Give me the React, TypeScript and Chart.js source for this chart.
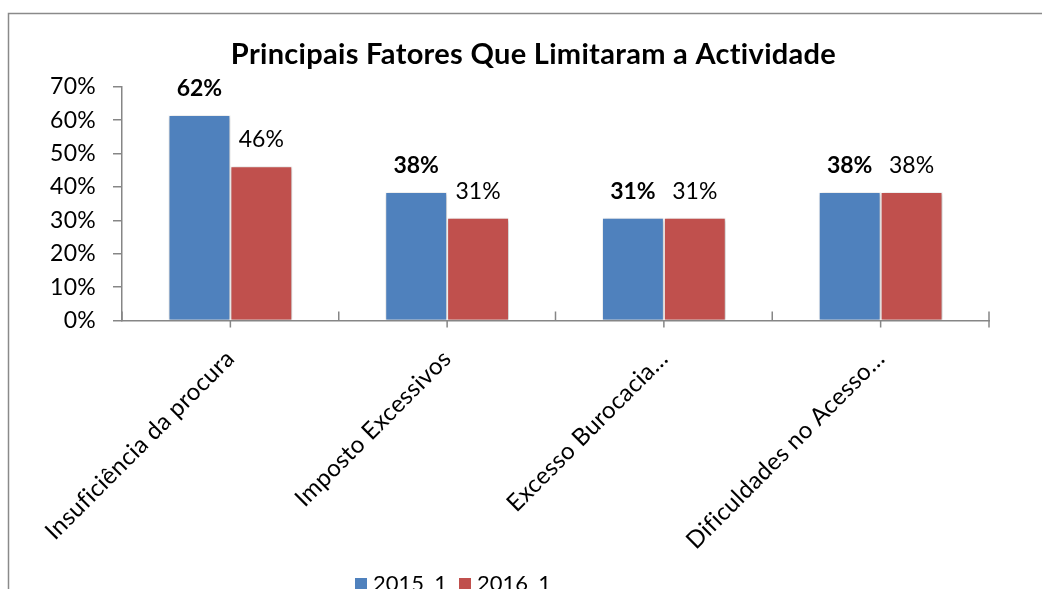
import React, { useEffect, useRef } from "react";
import { Chart, registerables } from "chart.js";

Chart.register(...registerables);

const TITLE = "Principais Fatores Que Limitaram a Actividade";
const categories = [
  "Insuficiência da procura",
  "Imposto Excessivos",
  "Excesso Burocacia…",
  "Dificuldades no Acesso…",
];
const seriesNames = ["2015_1", "2016_1"];
const values2015 = [61.54, 38.46, 30.77, 38.46];
const values2016 = [46.15, 30.77, 30.77, 38.46];
const yTickLabels = ["0%", "10%", "20%", "30%", "40%", "50%", "60%", "70%"];
const seriesColors = ["#4F81BD", "#C0504D"];

const FONT = "Lato, 'Open Sans', sans-serif";
const AXIS_GRAY = "#868686";

const framePlugin = {
  id: "frame",
  beforeDraw(chart: any) {
    const ctx = chart.ctx;
    ctx.save();
    ctx.strokeStyle = "#8a8a8a";
    ctx.lineWidth = 1.5;
    ctx.strokeRect(8.5, 13.5, 2000, 2000);
    ctx.restore();
    // small letter spacing for axis labels (keeps "fi" unligated, like the original)
    (ctx as any).letterSpacing = "0.3px";
  },
  beforeDatasetsDraw(chart: any) {
    (chart.ctx as any).letterSpacing = "0px";
  },
};

const titlePlugin = {
  id: "customTitle",
  afterDraw(chart: any) {
    const ctx = chart.ctx;
    ctx.save();
    (ctx as any).letterSpacing = "0.3px";
    ctx.font = `bold 29px ${FONT}`;
    ctx.fillStyle = "#000";
    ctx.textAlign = "center";
    ctx.textBaseline = "alphabetic";
    ctx.fillText(TITLE, 533.5, 64);
    ctx.restore();
  },
};

const shadowPlugin = {
  id: "barShadow",
  beforeDatasetsDraw(chart: any) {
    const ctx = chart.ctx;
    ctx.save();
    ctx.shadowColor = "rgba(0,0,0,0.28)";
    ctx.shadowBlur = 4;
    ctx.shadowOffsetX = 1;
    ctx.shadowOffsetY = 1;
  },
  afterDatasetsDraw(chart: any) {
    chart.ctx.restore();
  },
};

const xTickPlugin = {
  id: "xTicks",
  afterDraw(chart: any) {
    const scale = chart.scales.x;
    const ctx = chart.ctx;
    const bottom = chart.chartArea.bottom;
    const n = categories.length;
    const step = scale.getPixelForValue(1) - scale.getPixelForValue(0);
    ctx.save();
    ctx.strokeStyle = AXIS_GRAY;
    ctx.lineWidth = 1.5;
    ctx.beginPath();
    for (let i = 0; i < n; i++) {
      const c = scale.getPixelForValue(i);
      ctx.moveTo(c, bottom);
      ctx.lineTo(c, bottom + 7);
      const b = c - step / 2;
      ctx.moveTo(b, bottom - 9);
      ctx.lineTo(b, bottom);
    }
    const last = scale.getPixelForValue(n - 1) + step / 2;
    ctx.moveTo(last, bottom - 9);
    ctx.lineTo(last, bottom + 7);
    ctx.stroke();
    ctx.restore();
  },
};

const dataLabelPlugin = {
  id: "dataLabels",
  afterDatasetsDraw(chart: any) {
    const ctx = chart.ctx;
    ctx.save();
    ctx.fillStyle = "#000";
    ctx.textAlign = "center";
    ctx.textBaseline = "alphabetic";
    chart.data.datasets.forEach((ds: any, di: number) => {
      const meta = chart.getDatasetMeta(di);
      ctx.font = `${di === 0 ? "bold " : ""}23px ${FONT}`;
      meta.data.forEach((bar: any, i: number) => {
        const v = ds.data[i];
        ctx.fillText(Math.round(v) + "%", bar.x, bar.y - 19);
      });
    });
    ctx.restore();
  },
};

const legendPlugin = {
  id: "customLegend",
  afterDraw(chart: any) {
    const ctx = chart.ctx;
    const starts = [355, 459];
    ctx.save();
    ctx.font = `22px ${FONT}`;
    ctx.textAlign = "left";
    ctx.textBaseline = "alphabetic";
    chart.data.datasets.forEach((ds: any, di: number) => {
      const x = starts[di];
      ctx.fillStyle = ds.backgroundColor;
      ctx.fillRect(x, 578, 12, 12);
      ctx.fillStyle = "#000";
      ctx.fillText(ds.label, x + 18, 591);
    });
    ctx.restore();
  },
};

export default function App() {
  const ref = useRef<HTMLCanvasElement>(null);

  useEffect(() => {
    if (!ref.current) return;
    const chart = new Chart(ref.current, {
      type: "bar",
      data: {
        labels: categories,
        datasets: [
          {
            label: seriesNames[0],
            data: values2015,
            backgroundColor: seriesColors[0],
            borderColor: "#ffffff",
            borderWidth: 1,
            categoryPercentage: 0.571,
            barPercentage: 1,
          },
          {
            label: seriesNames[1],
            data: values2016,
            backgroundColor: seriesColors[1],
            borderColor: "#ffffff",
            borderWidth: 1,
            categoryPercentage: 0.571,
            barPercentage: 1,
          },
        ],
      },
      options: {
        responsive: false,
        animation: false,
        devicePixelRatio: 1,
        layout: { padding: { left: 20, right: 53, top: 86.7, bottom: 0 } },
        plugins: {
          legend: { display: false },
          tooltip: { enabled: false },
          title: { display: false },
        },
        scales: {
          x: {
            grid: { display: false },
            border: { display: true, color: AXIS_GRAY, width: 1.5 },
            ticks: {
              color: "#000",
              font: { family: FONT, size: 24 },
              minRotation: 45,
              maxRotation: 45,
              autoSkip: false,
              padding: 16,
            },
            afterFit: (scale: any) => {
              scale.height = 268.5;
            },
          },
          y: {
            min: 0,
            max: 70,
            grid: {
              display: true,
              drawOnChartArea: false,
              drawTicks: true,
              tickLength: 9,
              color: AXIS_GRAY,
              lineWidth: 1.5,
            },
            border: { display: true, color: AXIS_GRAY, width: 1.5 },
            ticks: {
              color: "#000",
              font: { family: FONT, size: 23 },
              padding: 17,
              stepSize: 10,
              callback: (_v: any, i: number) => yTickLabels[i],
            },
            afterFit: (scale: any) => {
              scale.width = 102;
            },
          },
        },
      },
      plugins: [framePlugin, shadowPlugin, dataLabelPlugin, xTickPlugin, legendPlugin, titlePlugin],
    } as any);
    return () => chart.destroy();
  }, []);

  return (
    <div
      style={{
        position: "fixed",
        left: 0,
        top: 0,
        width: 1042,
        height: 589,
        overflow: "hidden",
        background: "#fff",
      }}
    >
      <canvas ref={ref} width={1042} height={589} style={{ display: "block" }} />
    </div>
  );
}
